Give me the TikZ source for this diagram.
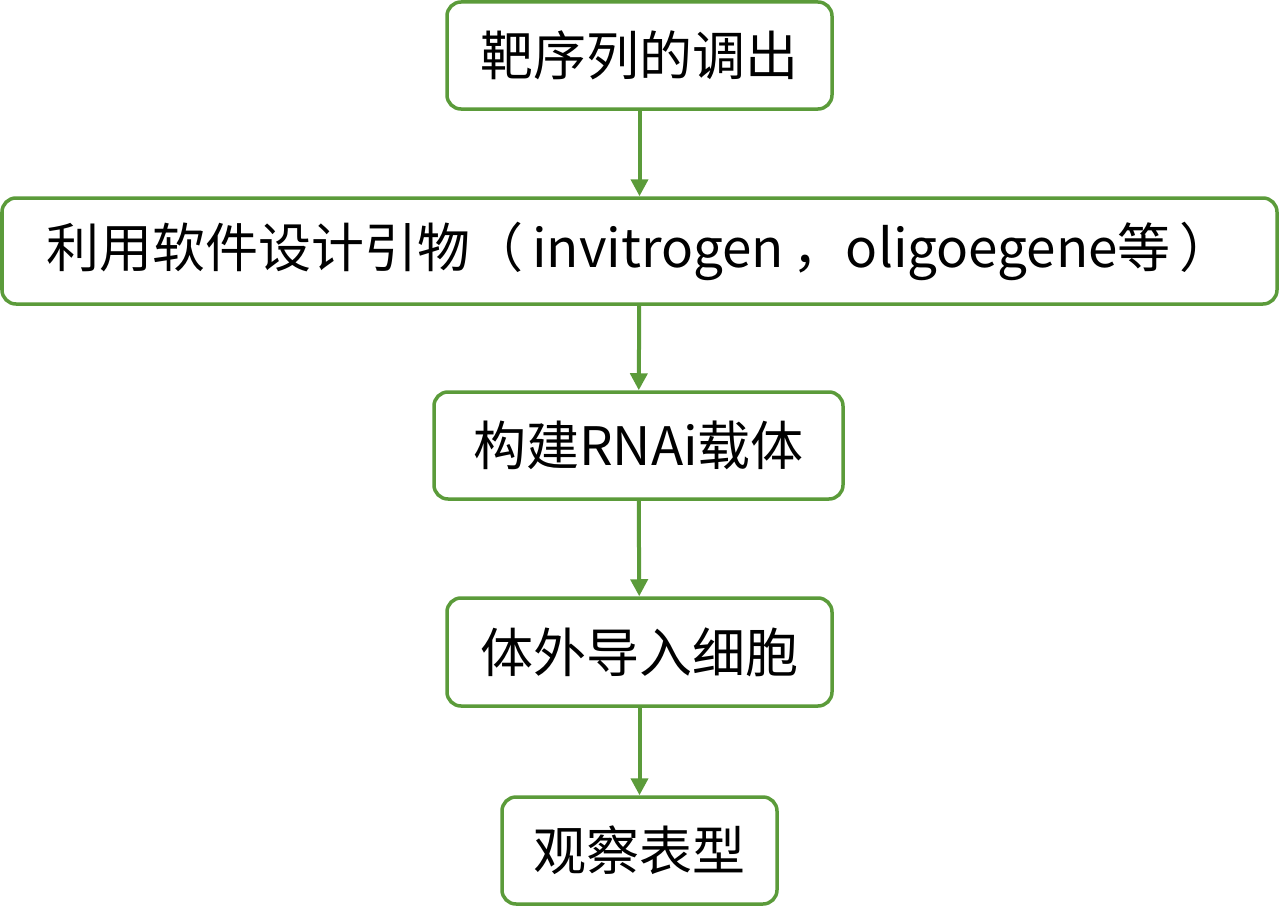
\documentclass[tikz,border=0pt]{standalone}
\usepackage{fontspec}
\setmainfont{Noto Sans CJK SC}
\usetikzlibrary{arrows.meta}
\definecolor{gr}{HTML}{5B9B3A}
\begin{document}
\begin{tikzpicture}[x=1pt,y=-1pt,
  box/.style={draw=gr,line width=3.5pt,rounded corners=14pt,fill=white,inner sep=0pt,font=\fontsize{53}{58}\selectfont},
  arr/.style={draw=gr,line width=4pt,-{Triangle[length=17pt,width=17pt]}}]
\useasboundingbox (0,0) rectangle (1280,907);
\node[box,minimum width=385pt,minimum height=107pt] (a) at (639.5,55.5) {靶序列的调出};
\node[box,minimum width=1275pt,minimum height=106pt] (b) at (639.5,251) {利用软件设计引物（\,invitrogen\,，oligoegene等\,）};
\node[box,minimum width=409pt,minimum height=107pt] (c) at (638.5,445.5) {构建RNAi载体};
\node[box,minimum width=385pt,minimum height=108pt] (d) at (639.5,652) {体外导入细胞};
\node[box,minimum width=275pt,minimum height=107pt] (e) at (639.5,850.5) {观察表型};
\draw[arr] (a) -- (b);
\draw[arr] (b) -- (c);
\draw[arr] (c) -- (d);
\draw[arr] (d) -- (e);
\end{tikzpicture}
\end{document}
